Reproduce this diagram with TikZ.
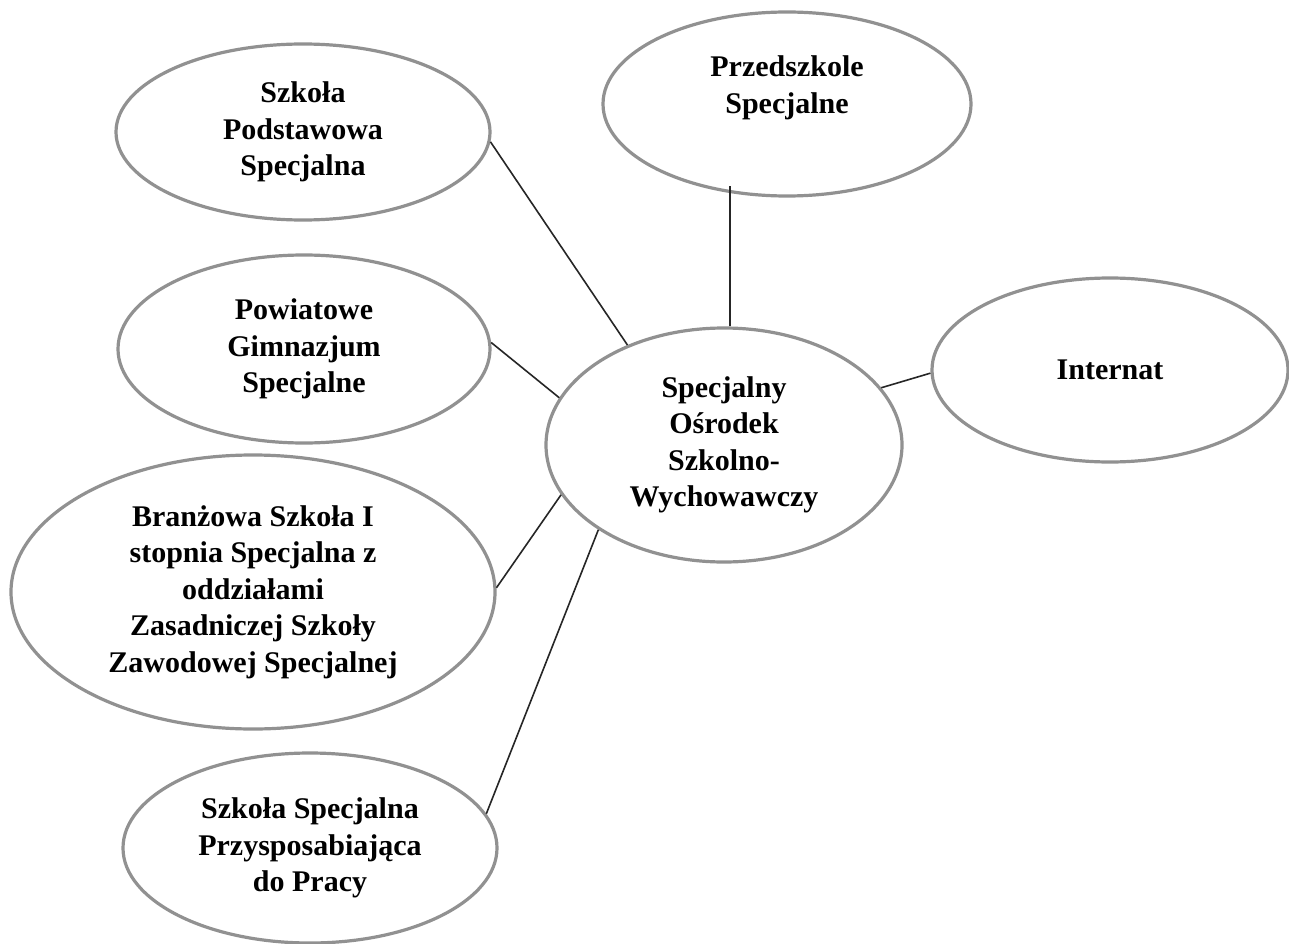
\documentclass[tikz,border=0pt]{standalone}
\usepackage{fontspec}
\setmainfont{Liberation Serif}
\usetikzlibrary{shapes.geometric}
\definecolor{ovalgray}{RGB}{145,145,145}
\tikzset{
  oval/.style={ellipse, draw=ovalgray, line width=3.2pt, inner sep=0pt, align=center,
    font=\bfseries\fontsize{30}{36.5}\selectfont},
  ovaltext/.style={inner sep=0pt, align=center, font=\bfseries\fontsize{30}{36.5}\selectfont},
  link/.style={draw=black!85, line width=1.6pt}
}
\begin{document}
\begin{tikzpicture}[x=1pt, y=-1pt]
\useasboundingbox[fill=white] (0,0) rectangle (1289,944);
\node[oval, minimum width=374pt, minimum height=176pt] (sps) at (303,132) {Szkoła\\Podstawowa\\Specjalna};
\node[oval, minimum width=368pt, minimum height=184pt] (prz) at (787,104) {};
\node[ovaltext] (prztext) at (787,88) {Przedszkole\\Specjalne};
\node[oval, minimum width=372pt, minimum height=188pt] (gim) at (304,349) {Powiatowe\\Gimnazjum\\Specjalne};
\node[oval, minimum width=356pt, minimum height=184pt] (int) at (1110,370) {Internat};
\node[oval, minimum width=356pt, minimum height=234pt] (osw) at (724,445) {Specjalny\\Ośrodek\\Szkolno-\\Wychowawczy};
\node[oval, minimum width=484pt, minimum height=274pt] (bra) at (253,592) {Branżowa Szkoła I\\stopnia Specjalna z\\oddziałami\\Zasadniczej Szkoły\\Zawodowej Specjalnej};
\node[oval, minimum width=374pt, minimum height=190pt] (pra) at (310,848) {Szkoła Specjalna\\Przysposabiająca\\do Pracy};
\draw[link] (sps.-3) -- (osw.134);
\draw[link] (osw.87) -- ([yshift=12pt]osw.87 |- prz.south);
\draw[link] (gim.2) -- (osw.164);
\draw[link] (osw.20) -- (int.181);
\draw[link] (bra.1) -- (osw.197);
\draw[link] (pra.11) -- (osw.214);
\end{tikzpicture}
\end{document}
